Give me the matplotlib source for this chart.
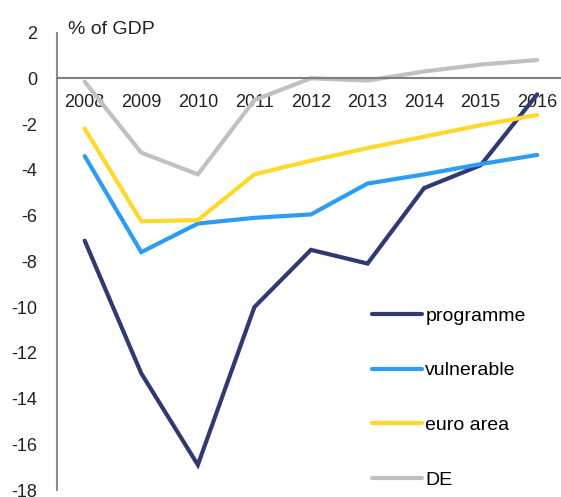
import matplotlib.pyplot as plt
import numpy as np

plt.rcParams['font.family'] = ['Liberation Sans', 'DejaVu Sans']
plt.rcParams['axes.unicode_minus'] = False

years = ['2008', '2009', '2010', '2011', '2012', '2013', '2014', '2015', '2016']
programme = [-7.1, -12.9, -16.9, -10.0, -7.5, -8.1, -4.8, -3.8, -0.7]
vulnerable = [-3.4, -7.6, -6.35, -6.1, -5.95, -4.6, -4.2, -3.75, -3.35]
euro_area = [-2.2, -6.25, -6.2, -4.2, -3.6, -3.05, -2.55, -2.05, -1.6]
de = [-0.15, -3.25, -4.2, -0.95, 0.0, -0.1, 0.3, 0.6, 0.8]

series = [
    ('programme', programme, '#2f3a73'),
    ('vulnerable', vulnerable, '#2e9cf2'),
    ('euro area', euro_area, '#ffd82a'),
    ('DE', de, '#c0c0c0'),
]

fig = plt.figure(figsize=(5.61, 4.97), dpi=100)
ax = fig.add_axes([0.1016, 0.014, 0.8984, 0.9205])

x = np.arange(len(years))
for name, vals, col in series:
    ax.plot(x, vals, color=col, lw=3, label=name, solid_capstyle='round', solid_joinstyle='miter')

ax.set_xlim(-0.49, 8.42)
ax.set_ylim(-18, 2)
ax.set_yticks(np.arange(-18, 3, 2))
ax.set_xticks(x)
ax.set_xticklabels(years)

for s in ['top', 'right']:
    ax.spines[s].set_visible(False)
ax.spines['left'].set_color('#8c8c8c')
ax.spines['left'].set_linewidth(1.5)
ax.spines['bottom'].set_position(('data', 0))
ax.spines['bottom'].set_color('#7f7f7f')
ax.spines['bottom'].set_linewidth(1.5)
ax.tick_params(axis='both', length=0, labelsize=13, colors='#222222')
ax.tick_params(axis='x', pad=11)
ax.tick_params(axis='y', pad=14)

ax.text(0.022, 1.006, '% of GDP', transform=ax.transAxes, fontsize=14,
        color='#222222', va='center', ha='left')

ax.legend(loc='lower left', bbox_to_anchor=(0.59, -0.035), frameon=False,
          fontsize=14, handlelength=2.6, handletextpad=0.15, labelspacing=1.9)

fig.savefig('out.png', dpi=100)
